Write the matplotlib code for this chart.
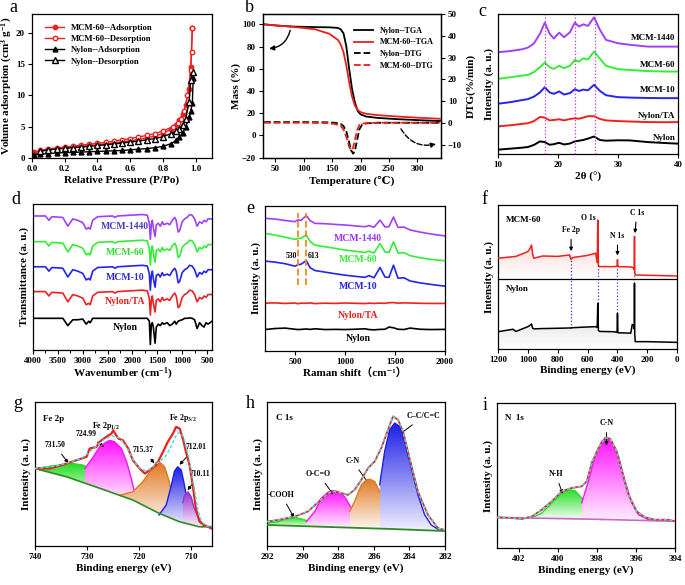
import numpy as np
import matplotlib
matplotlib.use("Agg")
import matplotlib.pyplot as plt
import matplotlib.colors as mcolors
from matplotlib.patches import Polygon
from matplotlib.ticker import MultipleLocator

plt.rcParams['font.family'] = ['Liberation Serif', 'DejaVu Serif', 'Noto Sans CJK SC']
plt.rcParams['font.weight'] = 'bold'
plt.rcParams['axes.labelweight'] = 'bold'
plt.rcParams['mathtext.fontset'] = 'custom'
plt.rcParams['mathtext.rm'] = 'Liberation Serif:bold'
plt.rcParams['mathtext.it'] = 'Liberation Serif:bold:italic'
plt.rcParams['mathtext.bf'] = 'Liberation Serif:bold'
plt.rcParams['axes.linewidth'] = 0.9

RED = '#F02020'
GREEN = '#33EE33'
BLUE = '#2424EE'
PURPLE = '#A040FF'

# ---------------- a: N2 isotherms ----------------
mcm_ads_p = [0.01, 0.05, 0.1, 0.15, 0.2, 0.25, 0.3, 0.35, 0.4, 0.45, 0.5, 0.55, 0.6,
             0.65, 0.7, 0.75, 0.8, 0.85, 0.88, 0.9, 0.92, 0.94, 0.96, 0.97, 0.98]
mcm_ads_v = [0.9, 1.1, 1.3, 1.45, 1.6, 1.75, 1.85, 2.0, 2.1, 2.25, 2.4, 2.55, 2.75,
             2.95, 3.2, 3.5, 3.9, 4.6, 5.3, 6.0, 7.0, 8.5, 11.0, 14.5, 20.8]
mcm_des_p = [0.98, 0.975, 0.97, 0.95, 0.93, 0.91, 0.89, 0.86, 0.8, 0.75, 0.7, 0.65,
             0.6, 0.55, 0.5, 0.45, 0.4, 0.35, 0.3, 0.25, 0.2, 0.15, 0.1, 0.05]
mcm_des_v = [20.8, 17.0, 14.0, 10.0, 7.5, 6.3, 5.6, 5.0, 4.3, 3.9, 3.6, 3.35,
             3.1, 2.9, 2.7, 2.5, 2.35, 2.2, 2.05, 1.9, 1.75, 1.6, 1.45, 1.2]
nyl_ads_p = [0.01, 0.05, 0.1, 0.15, 0.2, 0.25, 0.3, 0.35, 0.4, 0.45, 0.5, 0.55, 0.6,
             0.65, 0.7, 0.75, 0.8, 0.85, 0.88, 0.9, 0.92, 0.94, 0.96, 0.97, 0.98, 0.985]
nyl_ads_v = [0.5, 0.6, 0.7, 0.8, 0.85, 0.9, 0.95, 1.0, 1.05, 1.1, 1.15, 1.2, 1.3,
             1.4, 1.5, 1.65, 1.85, 2.3, 2.8, 3.3, 4.0, 5.0, 6.5, 7.5, 8.8, 12.8]
nyl_des_p = [0.985, 0.97, 0.96, 0.94, 0.92, 0.9, 0.88, 0.85, 0.8, 0.75, 0.7, 0.65,
             0.6, 0.55, 0.5, 0.45, 0.4, 0.35, 0.3, 0.25, 0.2, 0.15, 0.1, 0.05]
nyl_des_v = [13.7, 12.5, 9.0, 6.3, 5.3, 4.7, 4.3, 3.9, 3.4, 3.1, 2.9, 2.7,
             2.55, 2.4, 2.25, 2.1, 2.0, 1.85, 1.75, 1.65, 1.55, 1.45, 1.3, 1.1]

# ---------------- b: TGA / DTG ----------------
tga_t = [30, 50, 80, 120, 145, 160, 165, 170, 175, 180, 185, 190, 195, 200, 210, 230, 260, 300, 340]
nyl_tga = [100, 99, 98, 97.5, 97.3, 96.8, 95.5, 92, 80, 60, 42, 30, 22, 19, 17, 15.8, 14.8, 13.8, 13]
mcm_tga = [100, 99, 97.8, 95.5, 91.5, 86, 82, 75, 63, 48, 35, 27, 23, 21, 19.5, 18.3, 17.2, 16, 15]
dtg_t = [30, 100, 140, 155, 165, 170, 175, 180, 183, 187, 190, 194, 198, 203, 210, 230, 270, 340]
nyl_dtg = [0.3, 0.3, 0.2, 0, -0.5, -1.5, -4, -9, -12.5, -14.2, -13, -8, -3, -0.8, -0.3, 0, 0, 0]
mcm_dtg = [0, 0, -0.1, -0.6, -1.5, -3, -6.5, -11, -12.6, -11.5, -8, -3.5, -1, -0.4, -0.2, 0, 0, 0]

# ---------------- c: XRD ----------------
xrd_2t = [10, 12, 14, 15, 16, 17, 17.8, 18.6, 19.3, 20.2, 21, 22, 22.8, 23.5, 24.2, 25, 26,
          27, 28, 30, 32, 35, 38, 40]
xrd_nylon = [3.1, 3.8, 4.5, 5, 6.5, 9, 8.5, 6.6, 7, 8, 6.8, 7.5, 9, 9.5, 10, 11, 12.5,
             10, 9.5, 9.8, 9.7, 8.5, 7.8, 7.4]
xrd_ta = [19.7, 20.5, 21.5, 22, 23.5, 26.5, 26, 24, 24.3, 24.8, 24, 25, 25.5, 25.2, 26, 27, 27,
          25, 24, 23.5, 23.2, 22.8, 22.7, 22.8]
xrd_m10 = [35.9, 37, 38.5, 39.2, 41, 44, 47.7, 44, 43, 44.7, 42.5, 43.5, 46.3, 45, 46, 45.5, 49.4,
           45, 42, 40.6, 40.3, 40, 39.9, 39.9]
xrd_m60 = [53.7, 54.8, 56, 56.5, 58.5, 62, 65.3, 62, 60.8, 63, 61.3, 63, 67.2, 66, 68.4, 67.5, 73.2,
           68, 63, 60.6, 60, 59.2, 58.9, 58.9]
xrd_m1440 = [72.7, 73.5, 74.8, 76, 79, 86, 93.8, 86, 82.5, 86.7, 83.4, 87, 93.8, 91, 92.6, 91.5, 97.6,
             88.6, 81.5, 79.1, 78, 76.7, 76.7, 76.7]
xrd_marks = [17.9, 22.8, 26.1]

# ---------------- d: FTIR ----------------
ftir_wn = [4000, 3750, 3680, 3620, 3400, 3300, 3200, 3100, 3000, 2930, 2880, 2850, 2800, 2700,
           2400, 2350, 2300, 1800, 1700, 1660, 1640, 1620, 1600, 1580, 1545, 1520, 1480, 1440,
           1400, 1370, 1300, 1250, 1200, 1150, 1120, 1080, 1050, 1000, 950, 900, 850, 800, 750,
           700, 650, 600, 560, 520, 480, 400]
ftir_mod = [0, 0, -3, -0.5, -1, -7, -2, -3, -4.5, -9, -8, -9, -3, -0.5,
            0, -1, 0, 1, 0.5, -5, -16, -6, -3, -8, -14, -6, -5, -7,
            -4, -6, -5, -6, -3, -1, -3, -11, -10, -4, -2, -1, 1, 0.5, -2,
            -7, -4, -5, -3, -4, -2, -2]
ftir_nyl = [0, 0, 0, 0, 0, -5, -1, -1, -0.5, -4, -2, -3, 0, 0,
            0, 0, 0, 0, 0, -2, -18, -4, -3, -6, -17, -6, -4, -5,
            -3, -4, -3, -5, -4, -2, -4, -2, -1.5, -1, 0, 0, 0.3, 0, -1,
            -7, -3, -5, -6, -3, -4, -2]
ftir_names = ['Nylon', 'Nylon/TA', 'MCM-10', 'MCM-60', 'MCM-1440']
ftir_offsets = [21.7, 40, 57, 74.2, 91.8]

# ---------------- e: Raman ----------------
ram_x = [200, 300, 400, 500, 530, 560, 613, 650, 700, 800, 900, 1000, 1100, 1200, 1240, 1290,
         1350, 1400, 1440, 1485, 1530, 1590, 1650, 1750, 1850, 2000]
ram_m1440 = [91.5, 91, 90, 89.2, 90.5, 90, 93.5, 90, 88, 87.8, 87.3, 86.9, 86.3, 85.7, 86.5, 85.3,
             90.3, 85.5, 85.8, 92.4, 85.2, 85.5, 83.5, 82, 80.8, 79.3]
ram_m60 = [81.1, 80, 78.5, 77, 77.5, 77.8, 80.2, 75.5, 73, 71.9, 70.8, 69.6, 68.8, 68, 68.8, 67.6,
           74.2, 68.3, 68, 75.3, 67.5, 67.8, 65.8, 64.3, 63.3, 62.2]
ram_m10 = [62, 61.3, 60.2, 58.5, 59.5, 59.8, 62.4, 57.5, 55.5, 54.4, 53.3, 52.3, 51.5, 50.8, 52, 50.5,
           57.6, 51, 50.8, 59.2, 50.2, 50.5, 48.3, 47, 46, 44.7]
ram_ta = [33, 33.2, 32.8, 33.1, 32.6, 33, 32.9, 33.2, 32.7, 33, 32.8, 33.1, 32.9, 32.7, 33, 32.8,
          33, 32.9, 33.3, 33.4, 33, 33.2, 33.1, 32.9, 32.8, 32.8]
ram_nyl = [14.8, 15.5, 15.8, 15, 14.8, 14.9, 15.2, 14.9, 15.3, 14.8, 14.9, 14.8, 15, 15.3, 14.8, 14.6,
           14.9, 15, 16.5, 16, 15, 14.8, 15.8, 15, 14.8, 14.9]
ram_marks = [530, 613]

# ---------------- f: XPS survey ----------------
sv_be = [1200, 1100, 1080, 1000, 985, 975, 968, 960, 900, 800, 720, 710, 700, 600, 545, 535, 531,
         527, 520, 420, 402, 399, 396, 310, 300, 290, 287, 285, 283, 280, 200, 0]
sv_mcm = [63, 64.1, 64.3, 67.6, 69.9, 72.2, 66, 63, 64.6, 64.3, 65.3, 62, 63.5, 65, 66.5, 60, 89.6,
          58, 57.2, 57.2, 57.5, 62, 57.2, 57, 56.7, 56, 55, 78.2, 54, 51.4, 51.2, 50.7]
sv_nyl = [12, 13.7, 12.2, 15.5, 16.5, 17.4, 14.5, 14, 14.2, 14.4, 14.6, 14.6, 14.8, 15.3, 15.5, 15, 31.7,
          13, 12.2, 12, 11.5, 24.8, 11.3, 11, 17, 16, 14, 45.6, 10, 5.1, 5.1, 4.6]
sv_lines_be = [710, 531, 399, 285]
sv_lines_top = [62, 58, 57, 54]
sv_lines_bot = [14.6, 31.7, 24.8, 45.6]

# ---------------- g: Fe 2p ----------------
fe_be = [740, 737.1, 733.9, 732, 730.1, 729.5, 728.2, 727.6, 726.3, 725.3, 725, 724, 723.1, 722.1,
         721.2, 719.9, 718.9, 718, 716.7, 715.4, 714.5, 713.5, 712.9, 712.2, 711.6, 711, 710.3,
         709.7, 709.1, 708.4, 707.5, 706.1]
fe_raw = [53.8, 53.8, 57.3, 59.6, 61.9, 67.7, 68.8, 72.3, 75.8, 78.1, 80.4, 74.6, 73.4, 67.7,
          59.6, 53.8, 50.3, 52.7, 56.1, 65.4, 72.3, 78.1, 82.7, 81.5, 74.6, 65.4, 56.1,
          42.3, 26.1, 16.9, 14.5, 12.2]
fe_env_be = [740, 736, 733, 731, 729.5, 728, 726.5, 725.2, 724, 723, 722, 721, 720, 719, 718, 717,
             716, 715, 714, 713, 712.3, 711.5, 710.5, 709.5, 708.7, 708, 707, 706]
fe_env = [53.8, 55.5, 58.5, 61, 65.5, 70, 74.5, 76.5, 75.5, 72, 66, 59, 54.5, 52.5, 53, 56,
          59, 62, 68, 76, 79, 76, 62, 42, 25, 17, 13.8, 13.4]
fe_bg_be = [740, 733.9, 727.5, 721.2, 716.1, 712.3, 708.5, 706]
fe_bg = [53.8, 48, 40, 31.9, 22.6, 16.9, 13.4, 13.4]
fe_c1_be = [740, 737.1, 733.9, 732.7, 730.7, 728.8, 726.9, 725, 723.1, 722]
fe_c1 = [53.8, 55.4, 56.8, 57.3, 56.1, 52.7, 46.9, 41.1, 36.5, 33.6]
fe_c2_be = [730.4, 728.8, 727.6, 726.3, 725.6, 724.7, 723.4, 722.4, 721.5, 720.9, 720.5]
fe_c2 = [53.8, 61.9, 68.8, 72.3, 73.4, 72.3, 67.7, 58.4, 46.9, 37.6, 34]
fe_c3_be = [723.7, 721.2, 719.3, 717.3, 716.7, 716.1, 715.1, 714.2, 713.5, 712.9, 712.2, 711.5]
fe_c3 = [35.3, 37.6, 44.6, 55, 58, 58.4, 55, 44.6, 33, 24.9, 21.5, 18.5]
fe_c4_be = [716.2, 714.8, 713.8, 713.2, 712.6, 711.9, 711.3, 710.6, 710, 709.1, 707.8]
fe_c4 = [21.5, 28.4, 42.3, 52, 55, 52.7, 42.3, 28.4, 19.2, 14.5, 13.4]
fe_c5_be = [711.6, 711.3, 710.6, 710, 709.4, 708.4, 707.5]
fe_c5 = [30, 35, 37.6, 34.2, 26.1, 18, 14]

# ---------------- h: C 1s ----------------
c_be = [292, 291.38, 290.45, 289.7, 289.13, 288.57, 288.2, 287.82, 287.45, 287.08, 286.7, 286.33,
        285.95, 285.58, 285.2, 284.92, 284.64, 284.36, 283.99, 283.52, 282.96, 282.39, 282]
c_raw = [16.9, 18.1, 20.4, 23.9, 30.4, 36.7, 37.8, 36.7, 35.5, 39, 45.9, 54.1,
         58.7, 68, 80.7, 90, 87.7, 79.6, 61, 37.8, 21.6, 12.3, 11.1]
c_bg_be = [292, 288, 285, 282]
c_bg = [14.6, 13, 11.8, 10.4]
c_c1_be = [292, 291.38, 290.82, 290.45, 289.88, 289.32, 288.76]
c_c1 = [15.8, 16.9, 19.3, 20, 18.1, 15.8, 13.5]
c_c2_be = [289.79, 289.32, 288.95, 288.57, 288.29, 288.01, 287.64, 287.26, 286.89, 286.51]
c_c2 = [16.9, 23.9, 33.2, 37.4, 38.3, 37.8, 34.3, 26.2, 18.1, 13.5]
c_c3_be = [287.36, 287.08, 286.7, 286.42, 286.23, 285.95, 285.58, 285.2, 284.83, 284.36]
c_c3 = [23.9, 30.9, 42.5, 45.9, 46.4, 44.8, 35.5, 23.9, 16.9, 12.3]
c_c4_be = [285.67, 285.39, 285.11, 284.83, 284.55, 284.27, 283.89, 283.52, 283.14, 282.77, 282.39]
c_c4 = [42.5, 65.7, 80.7, 85.4, 83.1, 72.6, 54.1, 35.5, 21.6, 14.6, 11.6]

# ---------------- i: N 1s ----------------
n_be = [403.1, 402.34, 401.83, 401.32, 400.81, 400.3, 399.79, 399.28, 398.77, 398.51, 398.26,
        397.91, 397.57, 397.32, 396.98, 396.72, 396.38, 395.96, 395.53, 395.02, 394.34, 394]
n_raw = [21.1, 20.7, 20, 21.8, 26.4, 32.2, 39.1, 41.4, 42.5, 46, 58.6,
         69, 75.9, 75.4, 66.7, 52.9, 36.8, 25.3, 21.1, 19.5, 19.5, 18.4]
n_bg_be = [403.1, 398, 394]
n_bg = [21.1, 19.8, 18.4]
n_c1_be = [401.32, 400.81, 400.3, 399.79, 399.45, 399.11, 398.77, 398.43, 398.09, 397.74]
n_c1 = [20.7, 24.1, 31, 37.9, 40.2, 39.5, 34.5, 26.4, 20.7, 19.5]
n_c2_be = [398.77, 398.43, 398.09, 397.74, 397.49, 397.23, 396.89, 396.55, 396.21, 395.87, 395.36, 394.68]
n_c2 = [31, 46, 63.2, 73.6, 76.3, 73.6, 63.2, 46, 31, 23, 19.5, 18.9]


W, H = 685, 585
fig = plt.figure(figsize=(W / 100, H / 100), dpi=100)


def panel(l, t, r, b):
    ax = fig.add_axes([l / W, 1 - b / H, (r - l) / W, (b - t) / H])
    ax.tick_params(direction='out', length=3, width=0.8, labelsize=6.5, pad=2)
    return ax


def letter(x, y, s):
    fig.text(x / W, 1 - y / H, s, ha='center', va='center', fontsize=13, fontweight='normal')


def grad_fill(ax, x, top, base, color, strength=1.0, floor=0.06, z=2):
    # vertical gradient from the colour (top) to near white (bottom), clipped to the area
    x = np.asarray(x, float)
    top = np.asarray(top, float)
    base = np.asarray(base, float)
    verts = np.concatenate([np.c_[x, top], np.c_[x[::-1], base[::-1]]])
    poly = Polygon(verts, closed=True, transform=ax.transData, facecolor='none', edgecolor='none')
    t = np.linspace(strength, floor, 128)[:, None]
    rgb = np.array(mcolors.to_rgb(color))
    rgba = np.ones((128, 1, 4))
    rgba[:, 0, :3] = t * rgb + (1 - t) * 1.0
    im = ax.imshow(rgba, extent=[x.min(), x.max(), base.min(), top.max()], aspect='auto',
                   origin='upper', zorder=z, interpolation='bilinear')
    im.set_clip_path(poly)


def component(ax, xs, ys, bx, by, color, z):
    base = np.interp(xs, bx[::-1], by[::-1])
    grad_fill(ax, xs, ys, base, color, z=z)
    ax.plot(xs, ys, color=color, lw=1, zorder=z + 0.5)


tsize = 6.5
lsize = 8

# ---- a ----
ax = panel(32, 14, 212, 158)
ax.plot(mcm_ads_p, mcm_ads_v, '-o', color=RED, ms=3.2, lw=1, label='MCM-60--Adsorption')
ax.plot(mcm_des_p, mcm_des_v, '-o', color=RED, mfc='white', ms=3.2, lw=1, label='MCM-60--Desorption')
ax.plot(nyl_ads_p, nyl_ads_v, '-^', color='k', ms=3.5, lw=1, label='Nylon--Adsorption')
ax.plot(nyl_des_p, nyl_des_v, '-^', color='k', mfc='white', ms=3.8, lw=1, label='Nylon--Desorption')
ax.set_xlim(0, 1.1)
ax.set_ylim(0, 23)
ax.set_xticks([0, 0.2, 0.4, 0.6, 0.8, 1.0])
ax.set_yticks([0, 5, 10, 15, 20])
ax.set_xlabel('Relative Pressure (P/Po)', fontsize=lsize, labelpad=2)
ax.set_ylabel('Volume adsorption (cm$^3$ g$^{-1}$)', fontsize=lsize, labelpad=1)
ax.legend(loc='upper left', bbox_to_anchor=(0.04, 0.97), frameon=False, fontsize=6.2,
          handlelength=2.2, labelspacing=0.35, borderpad=0.2)
letter(13, 8, 'a')

# ---- b ----
ax = panel(263, 14, 441, 158)
ax2 = ax.twinx()
ax2.tick_params(direction='out', length=3, width=0.8, labelsize=6.5, pad=2)
h1, = ax.plot(tga_t, nyl_tga, color='k', lw=1.3, label='Nylon--TGA')
h2, = ax.plot(tga_t, mcm_tga, color='#E8201C', lw=1.3, label='MCM-60--TGA')
h3, = ax2.plot(dtg_t, nyl_dtg, color='k', lw=1.3, ls='--', label='Nylon--DTG')
h4, = ax2.plot(dtg_t, mcm_dtg, color='#E8201C', lw=1.3, ls='--', label='MCM-60--DTG')
ax.set_xlim(28, 342)
ax.set_ylim(-20.3, 109.3)
ax2.set_ylim(-16.2, 50)
ax.set_xticks([50, 100, 150, 200, 250, 300])
ax.set_yticks([-20, 0, 20, 40, 60, 80, 100])
ax2.set_yticks([-10, 0, 10, 20, 30, 40, 50])
ax.set_xlabel('Temperature (℃)', fontsize=lsize, labelpad=2)
ax.set_ylabel('Mass (%)', fontsize=lsize, labelpad=1)
ax2.set_ylabel('DTG(%/min)', fontsize=lsize, labelpad=3)
ax2.legend(handles=[h1, h2, h3, h4], loc='upper right', bbox_to_anchor=(0.99, 0.95), frameon=False,
           fontsize=5.8, handlelength=2.4, labelspacing=0.45, borderpad=0.2)
ax.annotate('', xy=(34, 78), xytext=(77, 97),
            arrowprops=dict(arrowstyle='-|>', color='k', lw=1, mutation_scale=7,
                            connectionstyle='arc3,rad=-0.4'))
ax2.annotate('', xy=(338, -9.5), xytext=(269, -1.7),
             arrowprops=dict(arrowstyle='-|>', color='k', lw=1, ls='--', mutation_scale=7,
                             connectionstyle='arc3,rad=0.4'))
letter(249, 7, 'b')

# ---- c ----
ax = panel(498, 14, 678, 154)
xrd_sets = [(xrd_nylon, 'k', 'Nylon', 11.4), (xrd_ta, RED, 'Nylon/TA', 26.8),
            (xrd_m10, BLUE, 'MCM-10', 45.4), (xrd_m60, GREEN, 'MCM-60', 63.7),
            (xrd_m1440, PURPLE, 'MCM-1440', 82.9)]
for ys, col, name, ty in xrd_sets:
    ax.plot(xrd_2t, ys, color=col, lw=1.4)
    ax.text(39.6, ty, name, ha='right', va='center', fontsize=tsize)
for m in xrd_marks:
    ax.axvline(m, color='#CC33CC', ls=':', lw=0.9)
ax.set_xlim(10, 40)
ax.set_ylim(0, 100)
ax.set_xticks([10, 20, 30, 40])
ax.set_yticks([])
ax.set_xlabel('2θ (°)', fontsize=lsize, labelpad=2)
ax.set_ylabel('Intensity (a. u.)', fontsize=lsize, labelpad=3)
letter(482, 12, 'c')

# ---- d ----
ax = panel(33, 204, 212, 350)
d_cols = ['k', RED, BLUE, GREEN, PURPLE]
d_txt_cols = ['k', '#E82020', '#2A2AD8', '#33DD33', '#4B3BB5']
d_txt_y = [15.5, 33.1, 49.8, 66.9, 84.9]
for i, (name, off) in enumerate(zip(ftir_names, ftir_offsets)):
    prof = ftir_nyl if name == 'Nylon' else ftir_mod
    ax.plot(ftir_wn, np.array(prof) + off, color=d_cols[i], lw=1.2)
    ax.text(2150, d_txt_y[i], name, color=d_txt_cols[i], ha='center', va='center', fontsize=tsize + 0.5)
ax.set_xlim(4000, 400)
ax.set_ylim(0, 100)
ax.set_xticks(np.arange(4000, 400, -500))
ax.xaxis.set_minor_locator(MultipleLocator(250))
ax.tick_params(which='minor', direction='out', length=2, width=0.7)
ax.set_yticks([])
ax.set_xlabel('Wavenumber (cm$^{-1}$)', fontsize=lsize, labelpad=1)
ax.set_ylabel('Transmittance (a. u.)', fontsize=lsize, labelpad=3)
letter(16, 199, 'd')

# ---- e ----
ax = panel(265, 206, 445, 351)
ram_sets = [(ram_nyl, 'k', 'Nylon', 8.5), (ram_ta, RED, 'Nylon/TA', 24.7),
            (ram_m10, BLUE, 'MCM-10', 44.2), (ram_m60, GREEN, 'MCM-60', 63.1),
            (ram_m1440, PURPLE, 'MCM-1440', 77.6)]
for ys, col, name, ty in ram_sets:
    ax.plot(ram_x, ys, color=col, lw=1.2)
    tc = '#9933FF' if col == PURPLE else ('#E82020' if col == RED else col)
    ax.text(1130, ty, name, color=tc, ha='center', va='center', fontsize=tsize + 0.5)
ax.vlines(ram_marks, 45.4, 95.4, colors='#F08A20', linestyles='--', lw=1.3)
ax.text(525, 65.4, '530', ha='right', va='center', fontsize=5.5)
ax.text(625, 65.4, '613', ha='left', va='center', fontsize=5.5)
ax.set_xlim(200, 2000)
ax.set_ylim(0, 100)
ax.set_xticks([500, 1000, 1500, 2000])
ax.set_yticks([])
ax.set_xlabel('Raman shift（cm⁻¹）', fontsize=lsize, labelpad=1)
ax.set_ylabel('Intensity (a. u.)', fontsize=lsize, labelpad=3)
letter(250, 208, 'e')

# ---- f ----
ax = panel(498, 205, 677, 349)
grad_fill(ax, sv_be, sv_mcm, [48.4] * len(sv_be), '#F03030', strength=0.3, floor=0.0, z=1)
grad_fill(ax, sv_be, sv_nyl, [0] * len(sv_be), '#606060', strength=0.35, floor=0.0, z=1)
ax.plot(sv_be, sv_mcm, color=RED, lw=1.1, zorder=3)
ax.plot(sv_be, sv_nyl, color='k', lw=1.1, zorder=3)
ax.axhline(48.4, color='k', lw=0.9, zorder=4)
ax.vlines(sv_lines_be, sv_lines_bot, sv_lines_top, colors='#3838D0', linestyles=':', lw=0.9, zorder=2)
arrow_kw = dict(arrowstyle='-|>', color='k', lw=0.8, mutation_scale=5)
ax.annotate('Fe 2p', xy=(710, 66), xytext=(710, 80), ha='center', va='bottom', fontsize=5.5,
            arrowprops=arrow_kw)
ax.annotate('N 1s', xy=(399, 63), xytext=(399, 76), ha='center', va='bottom', fontsize=5.5,
            arrowprops=arrow_kw)
ax.annotate('C 1s', xy=(283, 78.5), xytext=(270, 92), ha='center', va='bottom', fontsize=5.5,
            arrowprops=arrow_kw)
ax.text(543, 91, 'O 1s', ha='right', va='center', fontsize=5.5)
ax.text(1150, 89.6, 'MCM-60', ha='left', va='center', fontsize=tsize)
ax.text(1150, 41.4, 'Nylon', ha='left', va='center', fontsize=tsize)
ax.set_xlim(1200, 0)
ax.set_ylim(0, 100)
ax.set_xticks(np.arange(1200, -1, -200))
ax.set_yticks([])
ax.set_xlabel('Binding energy (eV)', fontsize=lsize, labelpad=1)
ax.set_ylabel('Intensity (a. u.)', fontsize=lsize, labelpad=3)
letter(484, 200, 'f')

# ---- g ----
ax = panel(35, 402, 212, 546)
bx, by = np.array(fe_bg_be), np.array(fe_bg)
component(ax, fe_c1_be, fe_c1, bx, by, '#22DD22', 2)
component(ax, fe_c2_be, fe_c2, bx, by, '#FF10FF', 3)
component(ax, fe_c3_be, fe_c3, bx, by, '#E07A22', 4)
component(ax, fe_c4_be, fe_c4, bx, by, '#1E1EE6', 5)
component(ax, fe_c5_be, fe_c5, bx, by, '#9933CC', 6)
ax.plot(fe_bg_be, fe_bg, color='#2E8B22', lw=1.2, zorder=7)
ax.plot(fe_be, fe_raw, color='#F02020', lw=1.6, zorder=8)
ax.plot(fe_env_be, fe_env, color='#40E0E0', lw=1.1, ls=(0, (2, 1.5)), zorder=9)
ann = dict(arrowstyle='-|>', color='k', lw=0.7, mutation_scale=5)
ax.text(738.5, 88.5, 'Fe 2p', ha='left', va='center', fontsize=tsize)
ax.text(726.3, 83, 'Fe 2p$_{1/2}$', ha='center', va='center', fontsize=5.8)
ax.text(711.6, 89, 'Fe 2p$_{3/2}$', ha='center', va='center', fontsize=5.8)
ax.annotate('731.50', xy=(733.3, 56.1), xytext=(736.2, 70), ha='center', va='center', fontsize=5.5,
            arrowprops=ann)
ax.annotate('724.99', xy=(726.3, 67.7), xytext=(730.2, 78.1), ha='center', va='center', fontsize=5.5,
            arrowprops=ann)
ax.annotate('715.37', xy=(716.7, 56.1), xytext=(719.3, 66.5), ha='center', va='center', fontsize=5.5,
            arrowprops=ann)
ax.annotate('712.01', xy=(712.6, 55), xytext=(709.1, 68.8), ha='center', va='center', fontsize=5.5,
            arrowprops=ann)
ax.annotate('710.11', xy=(711, 37.2), xytext=(708.3, 50.3), ha='center', va='center', fontsize=5.5,
            arrowprops=ann)
ax.set_xlim(740, 706)
ax.set_ylim(0, 100)
ax.set_xticks([740, 730, 720, 710])
ax.set_yticks([])
ax.set_xlabel('Binding energy (eV)', fontsize=lsize, labelpad=2)
ax.set_ylabel('Intensity (a. u.)', fontsize=lsize, labelpad=3)
letter(18, 403, 'g')

# ---- h ----
ax = panel(267, 402, 445, 546)
bx, by = np.array(c_bg_be), np.array(c_bg)
component(ax, c_c1_be, c_c1, bx, by, '#22DD22', 2)
component(ax, c_c2_be, c_c2, bx, by, '#FF10FF', 3)
component(ax, c_c3_be, c_c3, bx, by, '#E07A22', 4)
component(ax, c_c4_be, c_c4, bx, by, '#1E1EE6', 5)
ax.plot(c_bg_be, c_bg, color='#2E8B22', lw=1.3, zorder=7)
ax.plot(c_be, c_raw, color='#F02020', lw=1.3, zorder=8)
ax.plot(c_be, c_raw, color='#40E0E0', lw=1.1, ls=(0, (2, 1.5)), zorder=9)
ax.text(291.5, 88.9, 'C 1s', ha='left', va='center', fontsize=tsize)
ax.annotate('C–C/C=C', xy=(284.7, 76.1), xytext=(283.2, 90), ha='center', va='center', fontsize=5.8,
            arrowprops=ann)
ax.annotate('C-N', xy=(286.1, 40.1), xytext=(287.2, 59.2), ha='center', va='center', fontsize=5.8,
            arrowprops=ann)
ax.annotate('O-C=O', xy=(288.2, 34.3), xytext=(289.1, 49.9), ha='center', va='center', fontsize=5.8,
            arrowprops=ann)
ax.annotate('-COOH', xy=(290.4, 18.1), xytext=(291.2, 35.5), ha='center', va='center', fontsize=5.8,
            arrowprops=ann)
ax.set_xlim(292, 282)
ax.set_ylim(0, 100)
ax.set_xticks([292, 290, 288, 286, 284, 282])
ax.set_yticks([])
ax.set_xlabel('Binding energy (eV)', fontsize=lsize, labelpad=2)
ax.set_ylabel('Intensity (a. u.)', fontsize=lsize, labelpad=3)
letter(250, 403, 'h')

# ---- i ----
ax = panel(497, 403, 675, 548)
bx, by = np.array(n_bg_be), np.array(n_bg)
component(ax, n_c1_be, n_c1, bx, by, '#22DD22', 2)
component(ax, n_c2_be, n_c2, bx, by, '#FF10FF', 3)
ax.plot(n_bg_be, n_bg, color='#CC66CC', lw=1.2, zorder=7)
ax.plot(n_be, n_raw, color='#F02020', lw=1.3, zorder=8)
ax.plot(n_be, n_raw, color='#40E0E0', lw=1.1, ls=(0, (2, 1.5)), zorder=9)
ax.text(402.7, 89.7, 'N  1s', ha='left', va='center', fontsize=tsize)
ax.annotate('C-N', xy=(397.5, 68.9), xytext=(397.5, 86.2), ha='center', va='center', fontsize=5.8,
            arrowprops=ann)
ax.annotate('N-H', xy=(399.7, 35.6), xytext=(400.1, 51), ha='center', va='center', fontsize=5.8,
            arrowprops=ann)
ax.set_xlim(403.1, 394)
ax.set_ylim(0, 100)
ax.set_xticks([402, 400, 398, 396, 394])
ax.set_yticks([])
ax.set_xlabel('Binding energy (eV)', fontsize=lsize, labelpad=2)
ax.set_ylabel('Intensity (a. u.)', fontsize=lsize, labelpad=3)
letter(485, 405, 'i')

fig.savefig('out.png', dpi=100, facecolor='white')
